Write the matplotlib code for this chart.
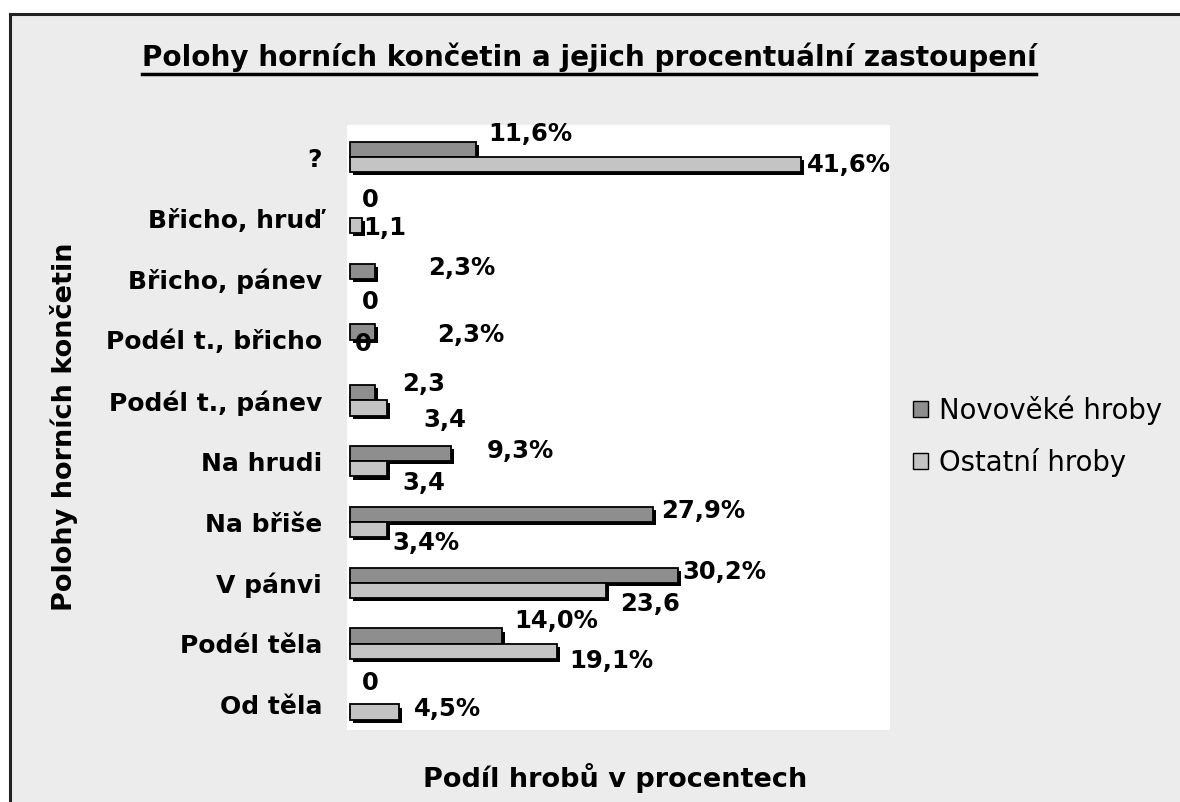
import numpy as np
import matplotlib
matplotlib.use('Agg')
import matplotlib.pyplot as plt
import matplotlib.patheffects as pe
from matplotlib.patches import Rectangle
from matplotlib.lines import Line2D

plt.rcParams['font.family'] = ['DejaVu Sans']

#%% data
kategorie = ['?', 'Břicho, hruď', 'Břicho, pánev', 'Podél t., břicho',
             'Podél t., pánev', 'Na hrudi', 'Na břiše', 'V pánvi',
             'Podél těla', 'Od těla']
novoveke = [11.6, 0, 2.3, 2.3, 2.3, 9.3, 27.9, 30.2, 14.0, 0]
ostatni = [41.6, 1.1, 0, 0, 3.4, 3.4, 3.4, 23.6, 19.1, 4.5]
# ktere popisky maji znak %
proc_nov = [True, False, True, True, False, True, True, True, True, False]
proc_ost = [True, False, False, False, False, False, True, False, True, True]

# posun popisku v pixelech (dx, dy), dy kladne = dolu
pos_nov = [(12, -16), (12, -10), (53, -3), (62, 3), (27, -9),
           (36, -3), (8, -3), (5, -3), (12, -15), (12, -14)]
pos_ost = [(6, 0), (1, 2), (12, 16), (5, -3), (36, 12),
           (15, 14), (5, 13), (14, 14), (12, 10), (15, -3)]

c_nov = '#8e8e8e'
c_ost = '#c4c4c4'
pozadi = '#ececec'

def popisek(v, pct):
    if v == 0:
        return '0'
    s = ('%.1f' % v).replace('.', ',')
    return s + '%' if pct else s

#%%
fig = plt.figure(figsize=(11.8, 8.02), dpi=100)
fig.patch.set_facecolor('white')
fig.patches.append(Rectangle((10/1180, -0.01), 1.0, 1.01 - 14/802, transform=fig.transFigure,
                             facecolor=pozadi, edgecolor='#222222', lw=2.2, zorder=-5))

ax = fig.add_axes([347/1180, 1 - 730/802, (890-347)/1180, (730-125)/802])
ax.set_facecolor('white')
for s in ax.spines.values():
    s.set_visible(False)

y = np.arange(len(kategorie))
h = 0.25
stin = [pe.SimplePatchShadow(offset=(2.2, -2.2), shadow_rgbFace='black', alpha=1.0), pe.Normal()]

b1 = ax.barh(y - h/2, novoveke, height=h, color=c_nov, edgecolor='black', lw=1.3)
b2 = ax.barh(y + h/2, ostatni, height=h, color=c_ost, edgecolor='black', lw=1.3)
for b in list(b1) + list(b2):
    if b.get_width() == 0:
        b.set_visible(False)
    else:
        b.set_path_effects(stin)

for i in range(len(kategorie)):
    dx, dy = pos_nov[i]
    ax.annotate(popisek(novoveke[i], proc_nov[i]), xy=(novoveke[i], y[i] - h/2),
                xytext=(dx, -dy), textcoords='offset pixels', ha='left', va='center',
                fontsize=17.5, fontweight='bold')
    dx, dy = pos_ost[i]
    ax.annotate(popisek(ostatni[i], proc_ost[i]), xy=(ostatni[i], y[i] + h/2),
                xytext=(dx, -dy), textcoords='offset pixels', ha='left', va='center',
                fontsize=17.5, fontweight='bold')

ax.set_xlim(-0.3, 49.8)
ax.set_ylim(9.42, -0.53)
ax.set_xticks([])
ax.set_yticks(y)
ax.set_yticklabels(kategorie, fontsize=18, fontweight='bold')
ax.tick_params(axis='y', length=0, pad=18)

fig.text(64/1180, 1 - 427/802, 'Polohy horních končetin', rotation=90, ha='center',
         va='center', fontsize=19.5, fontweight='bold')
fig.text(615/1180, 1 - 778/802, 'Podíl hrobů v procentech', ha='center', va='center',
         fontsize=19.5, fontweight='bold')

titul = fig.text(589/1180, 1 - 57/802, 'Polohy horních končetin a jejich procentuální zastoupení',
                 ha='center', va='center', fontsize=20.1, fontweight='bold')
fig.canvas.draw()
bb = titul.get_window_extent().transformed(fig.transFigure.inverted())
fig.lines.append(Line2D([bb.x0, bb.x1], [1 - 74/802] * 2, transform=fig.transFigure,
                        color='black', lw=2.5))

leg = fig.legend([b1, b2], ['Novověké hroby', 'Ostatní hroby'], loc='center left',
                 bbox_to_anchor=(888/1180, 1 - 436/802), frameon=False,
                 prop={'family': 'DejaVu Sans', 'size': 19.8},
                 handlelength=0.55, handleheight=0.55, handletextpad=0.4, labelspacing=0.85)
for hnd in leg.legend_handles:
    hnd.set_path_effects([])
    hnd.set_linewidth(1)

fig.savefig('out.png', dpi=100, facecolor=fig.get_facecolor())
